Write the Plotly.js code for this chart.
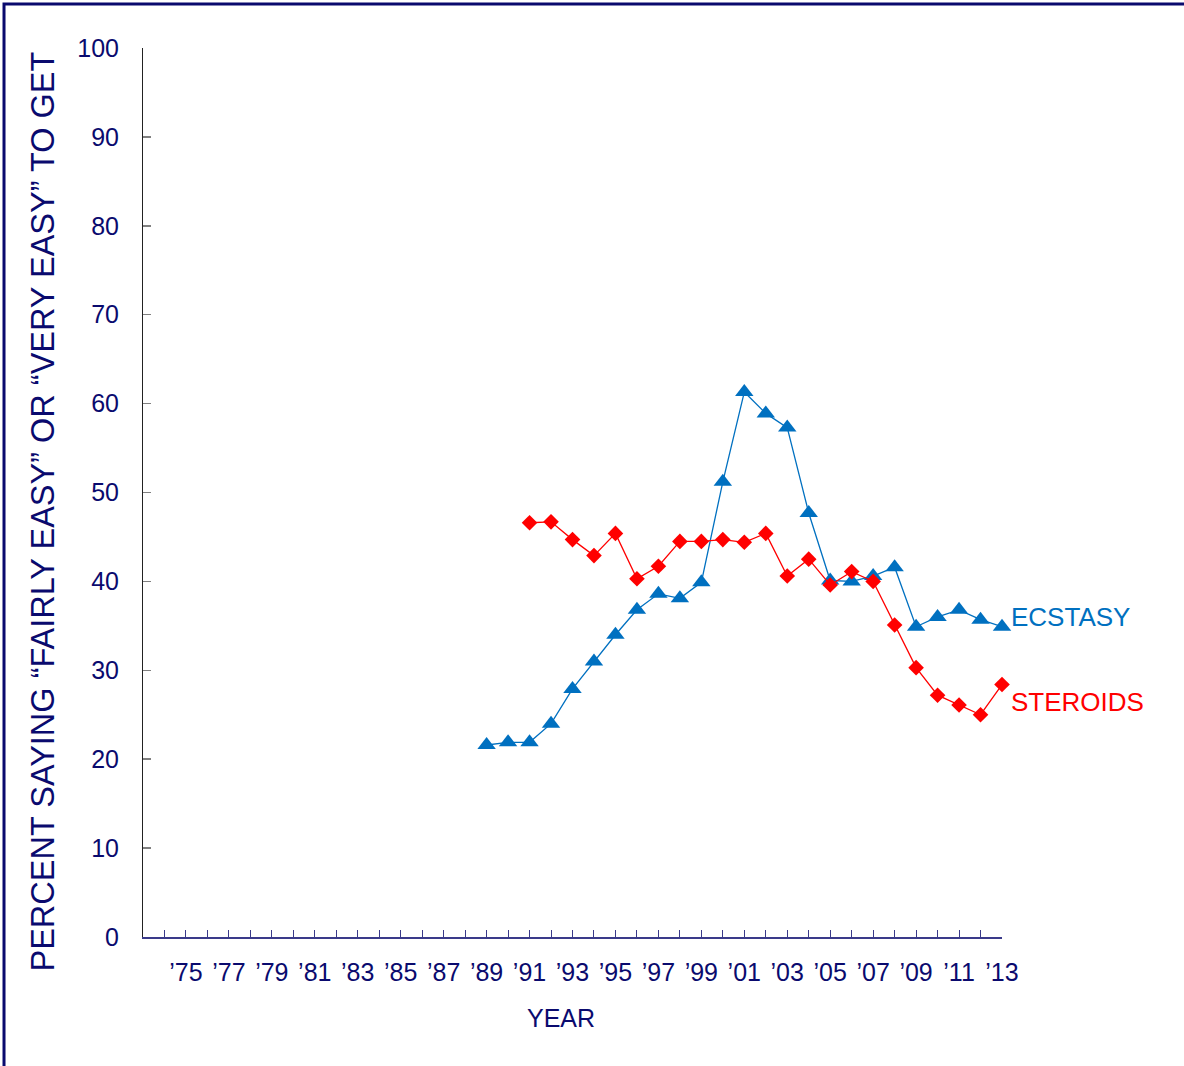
<!DOCTYPE html>
<html>
<head>
<meta charset="utf-8">
<script src="https://cdn.plot.ly/plotly-3.0.1.min.js"></script>
<style>html,body{margin:0;padding:0;background:#fff;}#chart{width:1184px;height:1066px;}</style>
</head>
<body>
<div id="chart"></div>
<script>
const ecstasyYears = [1989,1990,1991,1992,1993,1994,1995,1996,1997,1998,1999,2000,2001,2002,2003,2004,2005,2006,2007,2008,2009,2010,2011,2012,2013];
const ecstasyValues = [21.6,21.9,21.9,24.0,27.9,31.0,34.0,36.8,38.6,38.1,39.9,51.2,61.3,58.9,57.3,47.7,40.1,40.0,40.6,41.6,34.9,36.0,36.8,35.7,34.9];
const steroidsYears = [1991,1992,1993,1994,1995,1996,1997,1998,1999,2000,2001,2002,2003,2004,2005,2006,2007,2008,2009,2010,2011,2012,2013];
const steroidsValues = [46.6,46.7,44.7,42.9,45.4,40.3,41.7,44.5,44.5,44.7,44.4,45.4,40.6,42.5,39.6,41.1,40.0,35.1,30.3,27.2,26.1,25.0,28.4];
const tickYears = [];
const tickLabels = [];
for (let y = 1973; y <= 2013; y++) { tickYears.push(y); tickLabels.push((y % 2 === 1 && y >= 1975) ? '\u2019' + String(y).slice(2) : ''); }
const seriesNames = ['ECSTASY', 'STEROIDS'];
const xTitle = 'YEAR';
const yTitle = 'PERCENT SAYING \u201CFAIRLY EASY\u201D OR \u201CVERY EASY\u201D TO GET';

const navy = '#0a0a6e';
const blue = '#0070C0';
const red = '#FF0000';
const font = 'Liberation Sans, Arial, sans-serif';

const traces = [
  {x: ecstasyYears, y: ecstasyValues, type: 'scatter', mode: 'lines+markers', name: seriesNames[0],
   line: {color: blue, width: 1.3}, marker: {symbol: 'triangle-up', size: 16, color: blue}, cliponaxis: false},
  {x: steroidsYears, y: steroidsValues, type: 'scatter', mode: 'lines+markers', name: seriesNames[1],
   line: {color: red, width: 1.3}, marker: {symbol: 'diamond', size: 12, color: red}, cliponaxis: false}
];

const layout = {
  width: 1184, height: 1066,
  margin: {l: 143, r: 182, t: 48, b: 129},
  paper_bgcolor: '#fff', plot_bgcolor: '#fff',
  showlegend: false,
  font: {family: font, color: navy},
  xaxis: {
    range: [1973, 2013], tickmode: 'array', tickvals: tickYears, ticktext: tickLabels,
    ticks: 'inside', ticklen: 7, tickcolor: '#3a3a8a', tickwidth: 1,
    showline: true, linecolor: '#3a3a8a', linewidth: 1.5,
    showgrid: false, zeroline: false, ticklabelstandoff: 12,
    tickfont: {size: 25, color: navy, family: font}
  },
  yaxis: {
    range: [0, 100], dtick: 10, tick0: 0,
    ticks: 'inside', ticklen: 8, tickcolor: '#808080', tickwidth: 1.5,
    showline: true, linecolor: '#222', linewidth: 1,
    showgrid: false, zeroline: false, ticklabelstandoff: 18,
    tickfont: {size: 25, color: navy, family: font}
  },
  annotations: [
    {x: ecstasyYears[ecstasyYears.length-1], y: ecstasyValues[ecstasyValues.length-1], xref: 'x', yref: 'y',
     text: seriesNames[0], showarrow: false, xanchor: 'left', yanchor: 'middle', xshift: 7, yshift: 10,
     font: {size: 26, color: blue, family: font}},
    {x: steroidsYears[steroidsYears.length-1], y: steroidsValues[steroidsValues.length-1], xref: 'x', yref: 'y',
     text: seriesNames[1], showarrow: false, xanchor: 'left', yanchor: 'middle', xshift: 7, yshift: -17,
     font: {size: 26, color: red, family: font}},
    {x: 0.4866, y: -0.0911, xref: 'paper', yref: 'paper', text: xTitle, showarrow: false,
     xanchor: 'center', yanchor: 'middle', font: {size: 25, color: navy, family: font}},
    {x: -0.1164, y: 0.4786, xref: 'paper', yref: 'paper', text: yTitle, showarrow: false, textangle: -90,
     xanchor: 'center', yanchor: 'middle', font: {size: 32.5, color: navy, family: font}}
  ],
  shapes: [
    {type: 'rect', xref: 'paper', yref: 'paper', x0: -0.1618, x1: 1.25, y0: -0.16, y1: 1.0495,
     line: {color: '#0a0a6e', width: 3}, fillcolor: 'rgba(0,0,0,0)', layer: 'below'}
  ]
};

Plotly.newPlot('chart', traces, layout, {displayModeBar: false, staticPlot: true});
</script>
</body>
</html>
